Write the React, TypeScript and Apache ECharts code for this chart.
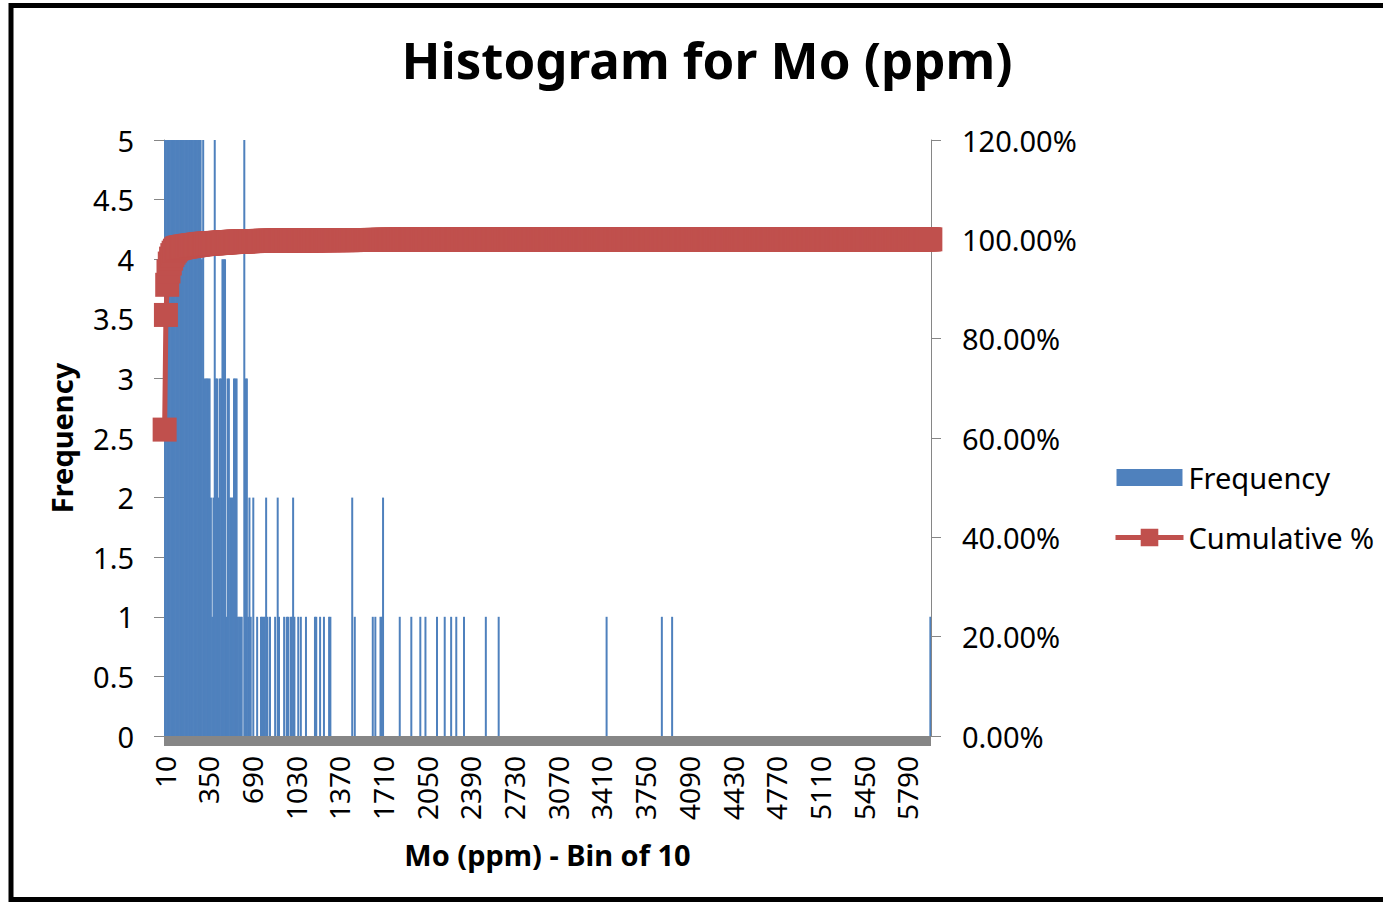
import React, { useEffect, useRef } from "react";
import * as echarts from "echarts";

// Histogram bins: upper bound of each 10 ppm bin
const BIN_SIZE = 10;
const BIN_TOTAL = 597;
const binLabels: string[] = Array.from({ length: BIN_TOTAL }, (_, i) => String((i + 1) * BIN_SIZE));

// Counts for the contiguous low range, bins 10 … 680 ppm
const lowRangeCounts = [
  9920, 3712, 976, 432, 256, 160, 112, 80, 64, 48, 32, 12, 10, 9, 8, 8, 7, 7, 7, 6, 6, 6, 6, 6, 6, 6, 6, 6, 6,
  4, 7, 3, 3, 3, 3, 3, 2, 1, 2,
  6, 3, 3, 2, 3, 3, 4, 4, 4, 1,
  3, 3, 2, 2, 2, 3, 3, 3, 1, 1,
  1, 1, 0, 5, 3, 3, 1, 2, 1,
];

// Sparse high range: bin (ppm) and count
const tailBins = [
  700, 730, 760, 770, 780, 790, 800, 810, 830, 870, 890, 900, 940, 960, 970, 990, 1000, 1010, 1020,
  1050, 1070, 1110, 1180, 1190, 1220, 1250, 1290, 1300, 1470, 1490, 1630, 1650, 1690, 1700, 1710,
  1840, 1930, 2000, 2040, 2130, 2190, 2240, 2280, 2340, 2510, 2610, 3450, 3880, 3960, 5970,
];
const tailCounts = [
  2, 1, 1, 1, 1, 1, 2, 1, 1, 1, 2, 1, 1, 1, 1, 1, 1, 2, 1,
  1, 1, 1, 1, 1, 1, 1, 1, 1, 2, 1, 1, 1, 1, 1, 2,
  1, 1, 1, 1, 1, 1, 1, 1, 1, 1, 1, 1, 1, 1, 1,
];

const FONT = "'Noto Sans', 'Open Sans', sans-serif";
const BAR_COLOR = "#4F81BD";
const LINE_COLOR = "#C0504D";
const AXIS_COLOR = "#868686";

// Legend swatch for the bars: a 66x17 block inside a 66x22 box
const BAR_SWATCH = "path://M0,2.5h66v17h-66z M0,0h0.01v0.01h-0.01z M0,22h0.01v0.01h-0.01z";

function buildFrequencies(): number[] {
  const freq = new Array(BIN_TOTAL).fill(0);
  lowRangeCounts.forEach((c, i) => (freq[i] = c));
  tailBins.forEach((b, k) => {
    freq[b / BIN_SIZE - 1] = tailCounts[k];
  });
  return freq;
}

function buildCumulative(freq: number[]): number[] {
  const total = freq.reduce((a, b) => a + b, 0);
  let run = 0;
  return freq.map((f) => {
    run += f;
    return run / total;
  });
}

export default function App() {
  const ref = useRef<HTMLDivElement>(null);

  useEffect(() => {
    if (!ref.current) return;
    const chart = echarts.init(ref.current, undefined, { renderer: "svg" });
    const frequency = buildFrequencies();
    const cumulative = buildCumulative(frequency);

    chart.setOption({
      animation: false,
      backgroundColor: "#ffffff",
      textStyle: { fontFamily: FONT },
      title: {
        text: "Histogram for Mo (ppm)",
        left: 702,
        textAlign: "center",
        top: 28,
        textStyle: { fontFamily: FONT, fontSize: 51, fontWeight: "bold", color: "#000" },
      },
      legend: {
        orient: "vertical",
        left: 1108,
        top: 458,
        itemWidth: 68,
        itemHeight: 22,
        itemGap: 31,
        textStyle: { fontFamily: FONT, fontSize: 29, color: "#000" },
        data: [
          { name: "Frequency", icon: BAR_SWATCH, itemStyle: { borderWidth: 0, color: BAR_COLOR } },
          { name: "Cumulative %", lineStyle: { width: 5, color: LINE_COLOR } },
        ],
      },
      grid: { left: 164, right: 452, top: 140, bottom: 167, containLabel: false },
      xAxis: {
        type: "category",
        data: binLabels,
        boundaryGap: true,
        offset: 5,
        axisLine: { onZero: false, lineStyle: { color: AXIS_COLOR, width: 10, cap: "butt" } },
        axisTick: { show: false },
        axisLabel: {
          interval: 33,
          rotate: 90,
          margin: 15,
          fontSize: 28,
          color: "#000",
          fontFamily: FONT,
        },
        name: "Mo (ppm) - Bin of 10",
        nameLocation: "middle",
        nameGap: 99,
        nameTextStyle: { fontFamily: FONT, fontSize: 29, fontWeight: "bold", color: "#000" },
      },
      yAxis: [
        {
          type: "value",
          min: 0,
          max: 5,
          interval: 0.5,
          axisLine: { show: true, lineStyle: { color: AXIS_COLOR, width: 1 } },
          axisTick: { show: true, length: 10, lineStyle: { color: AXIS_COLOR } },
          splitLine: { show: false },
          axisLabel: { fontSize: 29, margin: 30, color: "#000", fontFamily: FONT },
          name: "Frequency",
          nameLocation: "middle",
          nameRotate: 90,
          nameGap: 88,
          nameTextStyle: { fontFamily: FONT, fontSize: 29, fontWeight: "bold", color: "#000" },
        },
        {
          type: "value",
          position: "right",
          min: 0,
          max: 1.2,
          interval: 0.2,
          axisLine: { show: true, lineStyle: { color: AXIS_COLOR, width: 1 } },
          axisTick: { show: true, length: 10, lineStyle: { color: AXIS_COLOR } },
          splitLine: { show: false },
          axisLabel: {
            fontSize: 29,
            margin: 31,
            color: "#000",
            fontFamily: FONT,
            formatter: (v: number) => (v * 100).toFixed(2) + "%",
          },
        },
      ],
      series: [
        {
          name: "Frequency",
          type: "bar",
          data: frequency,
          barWidth: 2,
          itemStyle: { color: BAR_COLOR },
          clip: true,
        },
        {
          name: "Cumulative %",
          type: "line",
          yAxisIndex: 1,
          data: cumulative,
          symbol: "rect",
          symbolSize: 24,
          showAllSymbol: true,
          clip: false,
          lineStyle: { color: LINE_COLOR, width: 5 },
          itemStyle: { color: LINE_COLOR },
        },
      ],
      graphic: [
        {
          type: "rect",
          shape: { x: 11, y: 5.5, width: 1400, height: 894 },
          style: { fill: "none", stroke: "#000", lineWidth: 5 },
          silent: true,
        },
      ],
    });

    return () => chart.dispose();
  }, []);

  return (
    <div
      ref={ref}
      style={{ position: "fixed", left: 0, top: 0, width: 1383, height: 903 }}
    />
  );
}
